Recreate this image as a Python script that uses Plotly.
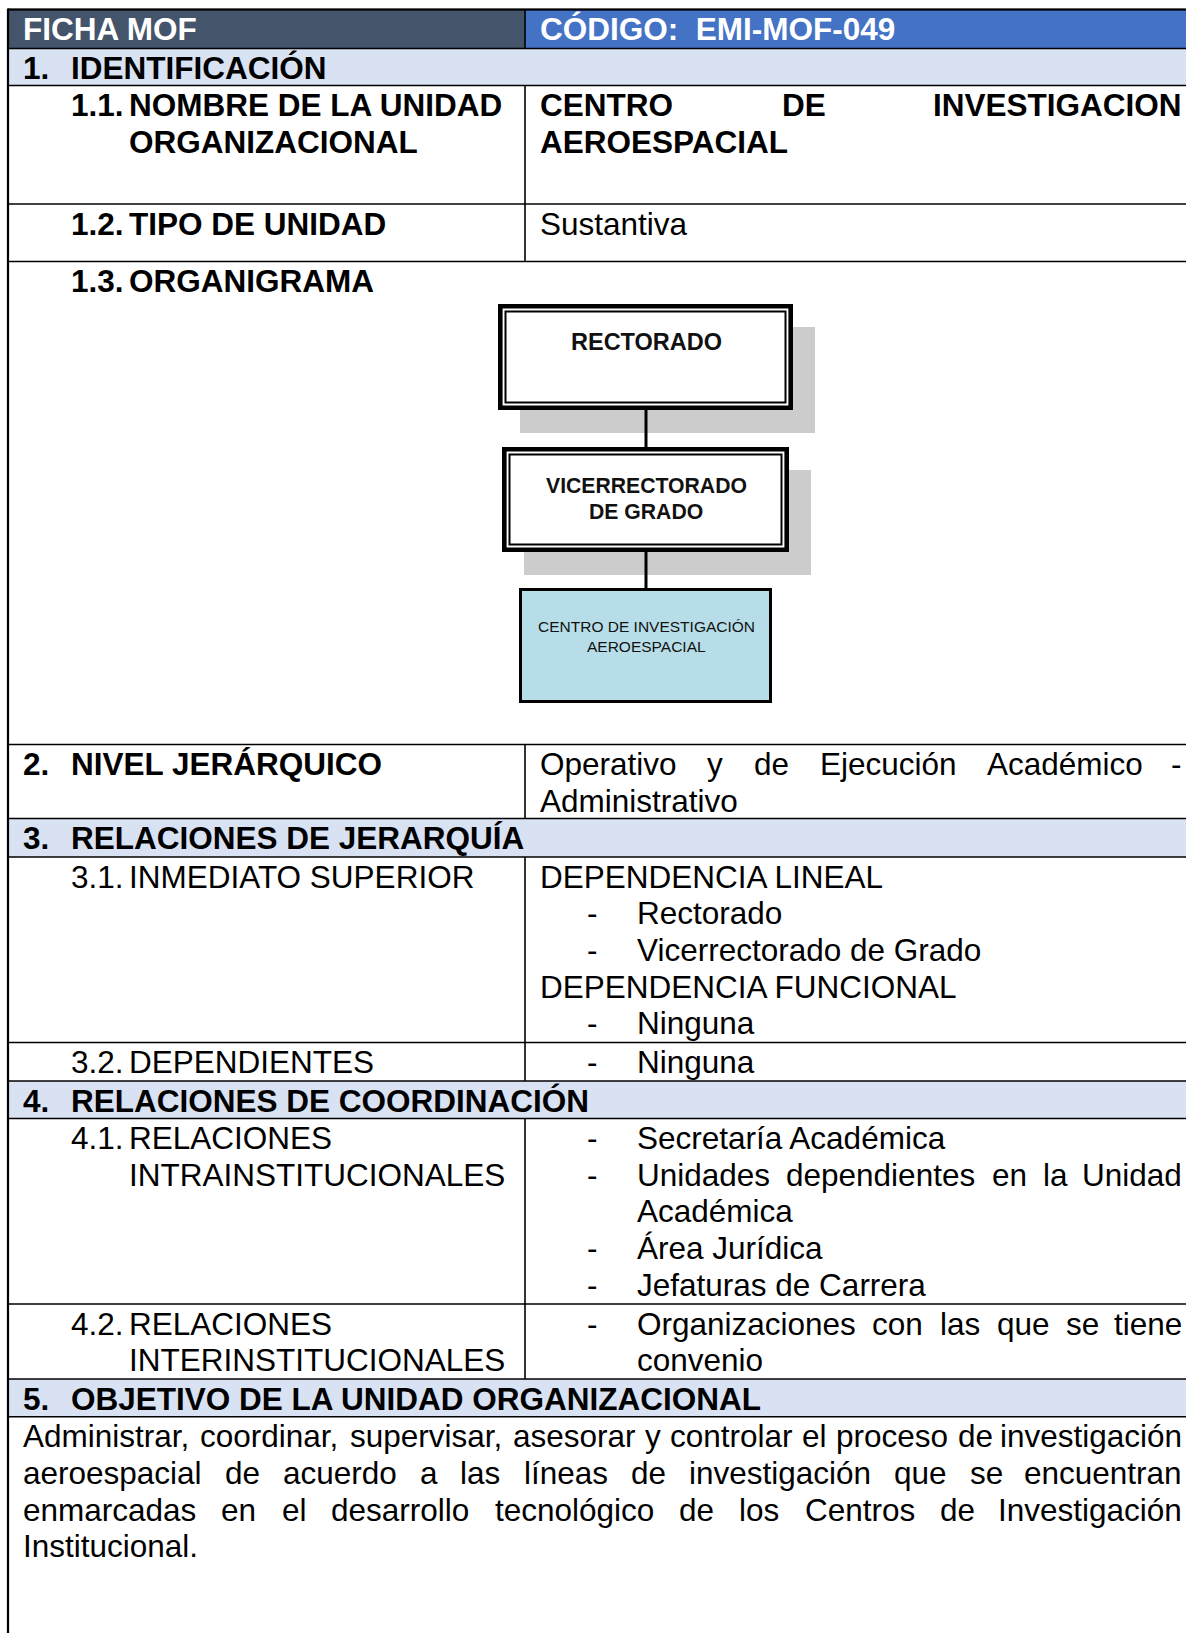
import unicodedata
import plotly.graph_objects as go

# ------------------------------------------------------------------ content
header_left = "FICHA MOF"
header_right = "CÓDIGO:\u00a0 EMI-MOF-049"

section_numbers = ["1.", "2.", "3.", "4.", "5."]
section_titles = ["IDENTIFICACIÓN", "NIVEL JERÁRQUICO", "RELACIONES DE JERARQUÍA",
                  "RELACIONES DE COORDINACIÓN", "OBJETIVO DE LA UNIDAD ORGANIZACIONAL"]

sub_numbers = ["1.1.", "1.2.", "1.3.", "3.1.", "3.2.", "4.1.", "4.2."]
sub_labels = [["NOMBRE DE LA UNIDAD", "ORGANIZACIONAL"], ["TIPO DE UNIDAD"], ["ORGANIGRAMA"],
              ["INMEDIATO SUPERIOR"], ["DEPENDIENTES"],
              ["RELACIONES", "INTRAINSTITUCIONALES"], ["RELACIONES", "INTERINSTITUCIONALES"]]
sub_bold = [True, True, True, False, False, False, False]

unit_name = ["CENTRO DE INVESTIGACION", "AEROESPACIAL"]
unit_type = "Sustantiva"
hier_level = ["Operativo y de Ejecución Académico -", "Administrativo"]
superior_heads = ["DEPENDENCIA LINEAL", "DEPENDENCIA FUNCIONAL"]
superior_lineal = ["Rectorado", "Vicerrectorado de Grado"]
superior_funcional = ["Ninguna"]
dependents = ["Ninguna"]
intra_relations = [["Secretaría Académica"], ["Unidades dependientes en la Unidad", "Académica"],
                   ["Área Jurídica"], ["Jefaturas de Carrera"]]
inter_relations = [["Organizaciones con las que se tiene", "convenio"]]
objective = ["Administrar, coordinar, supervisar, asesorar y controlar el proceso de investigación",
             "aeroespacial de acuerdo a las líneas de investigación que se encuentran",
             "enmarcadas en el desarrollo tecnológico de los Centros de Investigación",
             "Institucional."]
org_units = [["RECTORADO"], ["VICERRECTORADO", "DE GRADO"], ["CENTRO DE INVESTIGACIÓN", "AEROESPACIAL"]]

# ------------------------------------------------------------------ layout / style
W, H = 1186, 1633
FONT = "Arial, 'Liberation Sans', sans-serif"
FS = 31.5
LS = 36.7          # line spacing
PAD = 19.5         # first line centre below row top
XL, XD, XR = 8, 525, 1190
X_NUM, X_TITLE, X_SUB = 22, 70, 128
X_RC, X_DASH, X_BUL, X_END = 539, 592, 636, 1183

# row edges: header, sec1, 1.1, 1.2, 1.3, 2, sec3, 3.1, 3.2, sec4, 4.1, 4.2, sec5, body5
EDGES = [9.5, 48.5, 85.5, 204, 261.5, 744.5, 818.5, 857, 1042.5, 1081, 1118.5, 1304, 1379, 1416.7]
C_DARK, C_BLUE, C_SEC = "#44546A", "#4472C4", "#D9E2F3"
C_SHADOW, C_CENTER = "#CCCCCC", "#B7DEE8"

REG = {' ': 278, ',': 278, '-': 333, '.': 278, ':': 278}
REG.update(dict(zip("ABCDEFGHIJKLMNOPQRSTUVWXYZ",
                    [667, 667, 722, 722, 667, 611, 778, 722, 278, 500, 667, 556, 833, 722, 778, 667,
                     778, 722, 667, 611, 722, 667, 944, 667, 667, 611])))
REG.update(dict(zip("abcdefghijklmnopqrstuvwxyz",
                    [556, 556, 500, 556, 556, 278, 556, 556, 222, 222, 500, 222, 833, 556, 556, 556,
                     556, 333, 500, 278, 556, 500, 722, 500, 500, 500])))
BOLD = {' ': 278, ',': 278, '-': 333, '.': 278, ':': 333}
BOLD.update(dict(zip("ABCDEFGHIJKLMNOPQRSTUVWXYZ",
                     [722, 722, 722, 722, 667, 611, 778, 722, 278, 556, 722, 611, 833, 722, 778, 667,
                      778, 722, 667, 611, 722, 667, 944, 667, 667, 611])))
BOLD.update(dict(zip("abcdefghijklmnopqrstuvwxyz",
                     [556, 611, 556, 611, 556, 333, 611, 611, 278, 278, 556, 278, 889, 611, 611, 611,
                      611, 389, 556, 333, 611, 556, 778, 556, 556, 500])))


def width(s, size=FS, bold=False):
    tab = BOLD if bold else REG
    tot = 0
    for ch in s:
        if ch == 'í':
            tot += 278
            continue
        base = unicodedata.normalize('NFD', ch)[0]
        tot += tab.get(base, 556)
    return tot * size / 1000.0


fig = go.Figure()
fig.add_trace(go.Scatter(x=[0, W], y=[0, H], mode="markers", marker=dict(opacity=0),
                         hoverinfo="skip", showlegend=False))
shapes, annos = [], []


def rect(x0, y0, x1, y1, fill=None, lw=0, lc="black"):
    shapes.append(dict(type="rect", xref="x", yref="y", x0=x0, y0=y0, x1=x1, y1=y1,
                       fillcolor=fill if fill else "rgba(0,0,0,0)",
                       line=dict(width=lw, color=lc)))


def line(x0, y0, x1, y1, lw=1.6, lc="black"):
    shapes.append(dict(type="line", xref="x", yref="y", x0=x0, y0=y0, x1=x1, y1=y1,
                       line=dict(width=lw, color=lc)))


def text(x, y, s, bold=False, size=FS, color="black", anchor="left"):
    annos.append(dict(x=x, y=y, xref="x", yref="y", text=f"<b>{s}</b>" if bold else s,
                      showarrow=False, xanchor=anchor, yanchor="middle", borderpad=0,
                      font=dict(family=FONT, size=size, color=color)))


def justify(x0, x1, y, s, bold=False):
    words = s.split(" ")
    ws = [width(w, bold=bold) for w in words]
    gap = (x1 - x0 - sum(ws)) / max(len(words) - 1, 1)
    x = x0
    for i, w in enumerate(words):
        if i == len(words) - 1 and len(words) > 1:
            text(x1, y, w, bold, anchor="right")
        else:
            text(x, y, w, bold)
        x += ws[i] + gap


def ly(top, i):
    return top + PAD + i * LS


# ------------------------------------------------------------------ fills
rect(XL, EDGES[0], XD, EDGES[1], C_DARK)
rect(XD, EDGES[0], XR, EDGES[1], C_BLUE)
for k in [1, 6, 9, 12]:
    rect(XL, EDGES[k], XR, EDGES[k + 1], C_SEC)

# ------------------------------------------------------------------ grid lines
for e in EDGES:
    line(XL, e, XR, e, 1.6)
line(XL, EDGES[0], XR, EDGES[0], 2)
line(XL, EDGES[0] - 1, XL, H, 2.2)
for a, b in [(0, 1), (2, 4), (5, 6), (7, 9), (10, 12)]:
    line(XD, EDGES[a], XD, EDGES[b], 1.6)

# ------------------------------------------------------------------ header + sections
text(X_NUM, ly(EDGES[0], 0) - 0.5, header_left, True, color="white")
text(X_RC, ly(EDGES[0], 0) - 0.5, header_right, True, color="white")

sec_rows = [1, 5, 6, 9, 12]
for n, t, r in zip(section_numbers, section_titles, sec_rows):
    text(X_NUM, ly(EDGES[r], 0), n, True)
    text(X_TITLE, ly(EDGES[r], 0), t, True)

sub_rows = [2, 3, 4, 7, 8, 10, 11]
for n, labs, b, r in zip(sub_numbers, sub_labels, sub_bold, sub_rows):
    text(X_TITLE, ly(EDGES[r], 0), n, b)
    for i, lab in enumerate(labs):
        text(X_SUB, ly(EDGES[r], i), lab, b)

# ------------------------------------------------------------------ right column
justify(X_RC, X_END, ly(EDGES[2], 0), unit_name[0], bold=True)
text(X_RC, ly(EDGES[2], 1), unit_name[1], True)
text(X_RC, ly(EDGES[3], 0), unit_type)
justify(X_RC, X_END, ly(EDGES[5], 0), hier_level[0])
text(X_RC, ly(EDGES[5], 1), hier_level[1])


def bullet(top, i, s, just=False):
    text(X_DASH, ly(top, i), "-", anchor="center")
    if just:
        justify(X_BUL, X_END, ly(top, i), s)
    else:
        text(X_BUL, ly(top, i), s)


row = 0
text(X_RC, ly(EDGES[7], row), superior_heads[0]); row += 1
for s in superior_lineal:
    bullet(EDGES[7], row, s); row += 1
text(X_RC, ly(EDGES[7], row), superior_heads[1]); row += 1
for s in superior_funcional:
    bullet(EDGES[7], row, s); row += 1
for i, s in enumerate(dependents):
    bullet(EDGES[8], i, s)


def bullet_block(top, items):
    r = 0
    for item in items:
        for j, s in enumerate(item):
            if j == 0:
                bullet(top, r, s, just=len(item) > 1)
            else:
                text(X_BUL, ly(top, r), s)
            r += 1


bullet_block(EDGES[10], intra_relations)
bullet_block(EDGES[11], inter_relations)

for i, s in enumerate(objective):
    if i < len(objective) - 1:
        justify(X_NUM, X_END, ly(EDGES[13], i), s)
    else:
        text(X_NUM, ly(EDGES[13], i), s)

# ------------------------------------------------------------------ org chart
CX = 646
BOXES = [(498, 304, 793, 410), (502, 447, 789, 552), (519, 588, 772, 703)]
SHADOW_OFF = (22, 23)
ORG_TEXT = [([341.5], 23.5, True), ([485, 511.5], 21.2, True), ([626.5, 646], 15.5, False)]

for (x0, y0, x1, y1), kind in zip(BOXES, ["double", "double", "single"]):
    if kind == "double":
        rect(x0 + SHADOW_OFF[0], y0 + SHADOW_OFF[1], x1 + SHADOW_OFF[0], y1 + SHADOW_OFF[1], C_SHADOW)
        rect(x0, y0, x1, y1, "white")
        rect(x0 + 2.3, y0 + 2.3, x1 - 2.3, y1 - 2.3, None, 4.6)
        rect(x0 + 7.5, y0 + 7.5, x1 - 7.5, y1 - 7.5, None, 2)
    else:
        rect(x0 + 1.5, y0 + 1.5, x1 - 1.5, y1 - 1.5, C_CENTER, 3)
line(CX, BOXES[0][3], CX, BOXES[1][1], 3)
line(CX, BOXES[1][3], CX, BOXES[2][1], 3)

for labels, (ys, size, b) in zip(org_units, ORG_TEXT):
    for lab, y in zip(labels, ys):
        text(CX, y, lab, b, size=size, color="#111111", anchor="center")

fig.update_layout(
    width=W, height=H, margin=dict(l=0, r=0, t=0, b=0),
    paper_bgcolor="white", plot_bgcolor="white",
    xaxis=dict(range=[0, W], visible=False, fixedrange=True),
    yaxis=dict(range=[H, 0], visible=False, fixedrange=True),
    shapes=shapes, annotations=annos, showlegend=False,
)
fig.write_html("out.html", config={"displayModeBar": False},
               post_script="document.body.style.margin='0px';document.body.style.overflow='hidden';")
